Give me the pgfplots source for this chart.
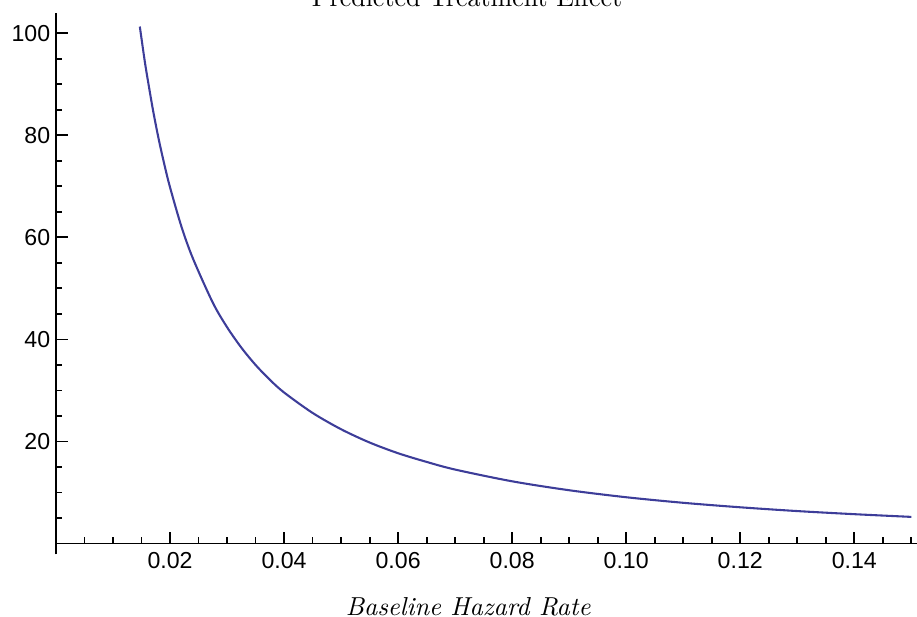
\documentclass[border=0pt]{standalone}
\usepackage{fontspec}
\usepackage{pgfplots}
\pgfplotsset{compat=1.18}
\newfontfamily\tickfont{Liberation Sans}
\definecolor{mmaBlue}{rgb}{0.24,0.24,0.6}

\begin{document}
\begin{tikzpicture}
\begin{axis}[
  scale only axis,width=331.5pt,height=208.5pt,
  xmin=0,xmax=0.151,ymin=-2.1,ymax=104,
  axis lines=middle,axis line style={-,line width=0.7pt,black},
  tick align=inside,
  xtick={0.02,0.04,0.06,0.08,0.10,0.12,0.14},
  xticklabels={0.02,0.04,0.06,0.08,0.10,0.12,0.14},
  minor xtick={0.005,0.01,0.015,0.025,0.03,0.035,0.045,0.05,0.055,0.065,0.07,0.075,0.085,0.09,0.095,0.105,0.11,0.115,0.125,0.13,0.135,0.145,0.15},
  ytick={20,40,60,80,100},
  minor ytick={5,10,15,25,30,35,45,50,55,65,70,75,85,90,95},
  major tick length=4.6pt,minor tick length=2.5pt,
  every tick/.style={black,line width=0.7pt},
  ticklabel style={font=\tickfont\fontsize{8.9}{10}\selectfont},
  yticklabel style={xshift=1.3pt},
  /pgf/number format/assume math mode=true,
  xlabel={\textit{Baseline Hazard Rate}},
  xlabel style={at={(axis cs:0.0723,0)},anchor=base,yshift=-27.5pt,inner sep=0pt},
  clip=false]
% predicted effect
\addplot[mmaBlue,line width=0.8pt,smooth] coordinates {
(0.0147,101.3) (0.0155,95.0) (0.016,91.5) (0.017,85.0) (0.018,79.3)
(0.019,74.3) (0.020,69.8) (0.022,62.1) (0.024,55.9) (0.0275,47.2)
(0.030,42.4) (0.0325,38.4) (0.035,35.0) (0.0375,32.1) (0.040,29.6)
(0.045,25.6) (0.050,22.4) (0.055,19.8) (0.060,17.7) (0.065,16.0)
(0.070,14.5) (0.080,12.2) (0.090,10.45) (0.100,9.08) (0.110,7.99)
(0.120,7.11) (0.130,6.37) (0.140,5.76) (0.150,5.23)};
\node[anchor=base,inner sep=0pt] at (axis cs:0.0721,105.3) {Predicted Treatment Effect};
\coordinate (bbsw) at (axis cs:-0.00982,-14.36);
\coordinate (bbne) at (axis cs:0.151,106.5);
\end{axis}
\pgfresetboundingbox
\useasboundingbox (bbsw) rectangle (bbne);
\end{tikzpicture}
\end{document}
